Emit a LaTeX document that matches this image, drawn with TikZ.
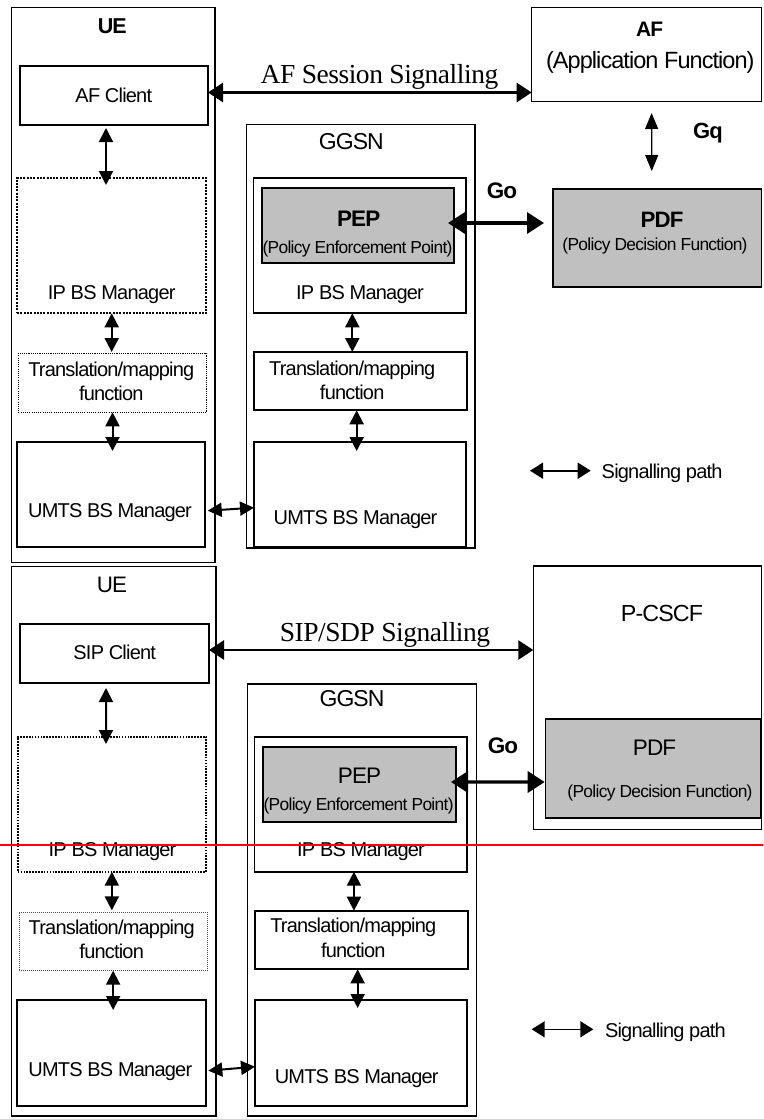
\documentclass[tikz,border=0pt]{standalone}
\usepackage{fontspec}
\setmainfont{Liberation Sans}
% tightly tracked faces, as used for every label of the diagram
\newfontfamily\tightsans[LetterSpace=-4]{Liberation Sans}
\newfontfamily\sigserif[LetterSpace=-1.7]{Liberation Serif}
\usetikzlibrary{arrows.meta,calc}
\definecolor{pepgray}{RGB}{192,192,192}
\definecolor{cutred}{RGB}{255,0,0}

% \blk{name}{style}{x1}{y1}{x2}{y2}: rectangle from top-left to bottom-right
\newcommand\blk[6]{\node[#2, anchor=north west, minimum width={(#5)-(#3)}, minimum height={(#6)-(#4)}] (#1) at (#3,#4) {};}
\newcommand\fsz[1]{\fontsize{#1}{#1}\tightsans}

\begin{document}
\begin{tikzpicture}[x=1pt,y=-1pt,
  frame/.style={draw, line width=1.3pt, inner sep=0pt, outer sep=0pt},
  box/.style={draw, line width=1.7pt, inner sep=0pt, outer sep=0pt},
  dotbox/.style={box, line width=2.2pt, dash pattern=on 2pt off 1.3pt},
  midotbox/.style={box, line width=1.6pt, dash pattern=on 1.6pt off 1.3pt},
  fdotbox/.style={box, line width=1.1pt, dash pattern=on 1.1pt off 1.1pt},
  lightdotbox/.style={box, line width=0.9pt, draw=black!70, dash pattern=on 0.9pt off 1.1pt},
  graybox/.style={box, fill=pepgray},
  txt/.style={inner sep=0pt, outer sep=0pt, anchor=base, font=\fsz{20}},
  subtxt/.style={txt, font=\fsz{17.4}},
  legtxt/.style={inner sep=0pt, outer sep=0pt, anchor=base west, font=\fsz{20}},
  sigtxt/.style={txt, font=\fontsize{27.5}{30}\sigserif},
  sig/.style={line width=2pt, arrows={Triangle[length=14pt,width=14pt]-Triangle[length=14pt,width=14pt]}},
  bigsig/.style={line width=2.6pt, arrows={Triangle[length=15pt,width=19pt]-Triangle[length=15pt,width=19pt]}},
  gosig/.style={line width=3.4pt, arrows={Triangle[length=17pt,width=21pt]-Triangle[length=17pt,width=21pt]}},
  gqsig/.style={line width=1.3pt, arrows={Triangle[length=16pt,width=13pt]-Triangle[length=16pt,width=13pt]}},
  legsig/.style={line width=1.6pt, arrows={Triangle[length=13pt,width=16pt]-Triangle[length=13pt,width=16pt]}},
]
\useasboundingbox (0,0) rectangle (763,1119);

% ================= upper panel: AF / PDF =================
\blk{ue1}{frame}{11.7}{7.3}{215}{562.5}
\blk{afc1}{box}{20}{66}{208}{125}
\blk{ipbs1L}{dotbox}{17}{178}{206}{313.3}
\blk{tr1L}{fdotbox}{18.3}{353.3}{206.7}{412.3}
\blk{um1L}{box}{17.3}{441.7}{205}{546.7}
\blk{gg1}{frame}{246.7}{124.5}{475}{548}
\blk{ipbs1R}{box}{253.5}{178}{465.7}{313.3}
\blk{pep1}{graybox}{261.7}{187.7}{454}{262.7}
\blk{tr1R}{box}{254}{352}{466.7}{410.3}
\blk{um1R}{box}{254}{441.7}{465.7}{546.7}
\blk{af1}{frame}{531.7}{7.3}{761.5}{101.7}
\blk{pdf1}{graybox}{553}{189}{761.5}{287}

\node[txt, font=\fsz{21.5}\bfseries] (ue1t) at (112.3,33.4) {UE};
\node[txt] (afc1t) at (113.8,102) {AF Client};
\node[sigtxt] (sess1t) at (379.5,83) {AF Session Signalling};
\node[txt, font=\fsz{21}\bfseries] (af1t) at (649.7,36) {AF};
\node[txt, font=\fsz{23.5}] (af1s) at (650.3,68) {(Application Function)};
\node[txt, font=\fsz{23}] (gg1t) at (351.3,149.3) {GGSN};
\node[txt, font=\fsz{22.5}\bfseries] (pep1t) at (358.7,226.5) {PEP};
\node[subtxt] (pep1s) at (357.5,253) {(Policy Enforcement Point)};
\node[txt] (ipbs1Rt) at (360,299) {IP BS Manager};
\node[txt, font=\fsz{22.3}\bfseries] (pdf1t) at (662,227.5) {PDF};
\node[subtxt] (pdf1s) at (655,250) {(Policy Decision Function)};
\node[txt, font=\fsz{22.5}\bfseries] (go1t) at (502,198.5) {Go};
\node[txt, font=\fsz{22}\bfseries] (gq1t) at (708,138.3) {Gq};
\node[txt] (ipbs1Lt) at (111.7,299) {IP BS Manager};
\node[txt] (tr1La) at (111.3,376) {Translation/mapping};
\node[txt] (tr1Lb) at (111.3,400) {function};
\node[txt] (tr1Ra) at (352.2,375) {Translation/mapping};
\node[txt] (tr1Rb) at (352.2,399) {function};
\node[txt] (um1Lt) at (110,517) {UMTS BS Manager};
\node[txt] (um1Rt) at (355.5,524) {UMTS BS Manager};

\coordinate (s1) at ($(afc1.east)+(0,-3)$);
\draw[bigsig] (s1) -- (s1 -| af1.west);
\draw[sig] ($(afc1.south)+(-8,3)$) -- ($(ipbs1L.north)+(-5.5,7)$);
\draw[sig] ($(ipbs1L.south)+(0.2,0)$) -- ($(tr1L.north)+(-0.8,-1.3)$);
\draw[sig] (tr1L.south) -- ($(tr1L.south |- um1L.north)+(0,9.3)$);
\draw[sig] ($(ipbs1R.south)+(-7.3,0)$) -- ($(ipbs1R.south |- tr1R.north)+(-7.3,0)$);
\draw[sig] ($(tr1R.south)+(-3.7,0)$) -- ($(tr1R.south |- um1R.north)+(-3.7,9.3)$);
\draw[sig] ($(um1L.east)+(2.7,16.5)$) -- ($(um1R.west)+(0,13.5)$);
\draw[gosig] ($(pep1.east)+(-6,-2.2)$) -- ($(pdf1.west)+(-9,-15)$);
\draw[gqsig] ($(af1.south)+(5,11.3)$) -- ($(pdf1.north)+(-5.5,-18)$);

\coordinate (leg1a) at (530,470.7);
\coordinate (leg1b) at (590.7,470.7);
\draw[legsig] (leg1a) -- (leg1b);
\node[legtxt] (leg1t) at (601.7,478.5) {Signalling path};

% ================= lower panel: P-CSCF =================
\blk{ue2}{frame}{11.7}{566.7}{216}{1116}
\blk{sipc}{box}{20}{624.3}{209}{683.3}
\blk{ipbs2L}{midotbox}{17.7}{736.7}{206}{871.7}
\blk{tr2L}{lightdotbox}{19}{912.3}{207.3}{970.7}
\blk{um2L}{box}{17.3}{1000}{206}{1105.7}
\blk{gg2}{frame}{247.8}{684}{476.5}{1116}
\blk{ipbs2R}{box}{254.6}{737}{467.3}{871.7}
\blk{pep2}{graybox}{262.8}{747}{455.7}{821.7}
\blk{tr2R}{box}{255}{910.7}{468.3}{969.3}
\blk{um2R}{box}{255}{1000}{467.3}{1105.7}
\blk{pcscf}{frame}{533.3}{566}{761.5}{829.3}
\blk{pdf2}{graybox}{545.5}{719.3}{761}{818}

\node[txt, font=\fsz{22.4}] (ue2t) at (112,592) {UE};
\node[txt] (sipct) at (114.7,659) {SIP Client};
\node[sigtxt] (sess2t) at (385,641.7) {SIP/SDP Signalling};
\node[txt, font=\fsz{23.3}] (pcscft) at (662,621.3) {P-CSCF};
\node[txt, font=\fsz{23}] (gg2t) at (352,706) {GGSN};
\node[txt, font=\fsz{22.5}] (pep2t) at (359.5,783) {PEP};
\node[subtxt] (pep2s) at (358.6,810) {(Policy Enforcement Point)};
\node[txt] (ipbs2Rt) at (361,856.5) {IP BS Manager};
\node[txt, font=\fsz{22.5}] (pdf2t) at (654.5,755) {PDF};
\node[subtxt] (pdf2s) at (660,797) {(Policy Decision Function)};
\node[txt, font=\fsz{22.5}\bfseries] (go2t) at (503,753.3) {Go};
\node[txt] (ipbs2Lt) at (112.5,856.5) {IP BS Manager};
\node[txt] (tr2La) at (111.7,934) {Translation/mapping};
\node[txt] (tr2Lb) at (111.7,958) {function};
\node[txt] (tr2Ra) at (353.3,932.5) {Translation/mapping};
\node[txt] (tr2Rb) at (353.3,957) {function};
\node[txt] (um2Lt) at (110.3,1076) {UMTS BS Manager};
\node[txt] (um2Rt) at (356.7,1083) {UMTS BS Manager};

\coordinate (s2) at ($(sipc.east)+(0,-3.8)$);
\draw[bigsig] (s2) -- (s2 -| pcscf.west);
\draw[sig] ($(sipc.south)+(-8.5,4.7)$) -- ($(ipbs2L.north)+(-5.85,7.3)$);
\draw[sig] (ipbs2L.south) -- ($(ipbs2L.south |- tr2L.north)+(0,-2)$);
\draw[sig] (tr2L.south) -- ($(tr2L.south |- um2L.north)+(0,10)$);
\draw[sig] ($(ipbs2R.south)+(-7,0)$) -- ($(ipbs2R.south |- tr2R.north)+(-7,0)$);
\draw[sig] ($(tr2R.south)+(-4,0)$) -- ($(tr2R.south |- um2R.north)+(-4,8)$);
\draw[sig] ($(um2L.east)+(2.3,17.85)$) -- ($(um2R.west)+(0,13.85)$);
\draw[gosig] ($(pep2.east)+(-4.7,-2.35)$) -- ($(pdf2.west)+(-0.8,13.35)$);

\coordinate (leg2a) at (531.7,1029.3);
\coordinate (leg2b) at (593.3,1029.3);
\draw[legsig] (leg2a) -- (leg2b);
\node[legtxt] (leg2t) at (605,1037.5) {Signalling path};

% horizontal red rule across the lower panel
\coordinate (cutA) at (0,845);
\coordinate (cutB) at (763,845);
\draw[cutred, line width=1.5pt] (cutA) -- (cutB);
\end{tikzpicture}
\end{document}
